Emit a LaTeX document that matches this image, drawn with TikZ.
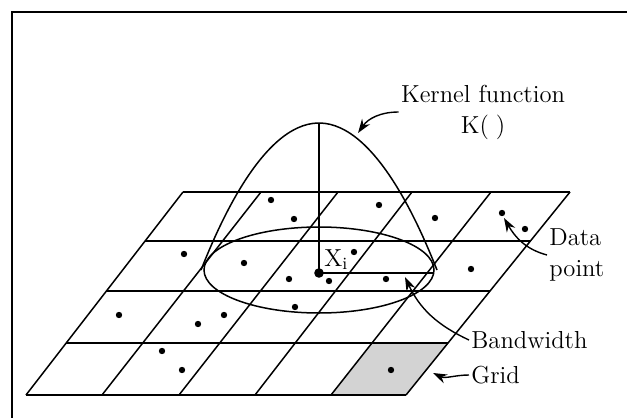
\documentclass[tikz,border=0pt]{standalone}
\usepackage{tikz}
\usetikzlibrary{arrows.meta, positioning}
\definecolor{CellGray}{HTML}{D3D3D3}
\tikzset{
  gridline/.style={line width=0.75pt, black},
  datapt/.style={fill=black},
  callout/.style={line width=0.7pt, -{Stealth[length=7pt,width=4.8pt]}},
  lbl/.style={inner sep=1pt, font=\fontsize{12.3}{15.5}\selectfont}
}

\begin{document}
\begin{tikzpicture}[x=0.5pt, y=-0.5pt]
    \useasboundingbox (0,0) rectangle (627,418);
    % Frame
    \draw[line width=1.1pt] (12,418) -- (12,12) -- (627,12);
    % Shaded grid cell
    \fill[CellGray] (331,395) -- (406,395) -- (448,343) -- (372,343) -- cycle;
    % Grid rows
    \draw[gridline] (183,192) -- (570,192);
    \draw[gridline] (145,241) -- (531,241);
    \draw[gridline] (106,291) -- (490,291);
    \draw[gridline] (66,343) -- (448,343);
    \draw[gridline] (26,395) -- (406,395);
    % Grid columns
    \draw[gridline] (183,192) -- (26,395);
    \draw[gridline] (261,192) -- (102,395);
    \draw[gridline] (338,192) -- (179,395);
    \draw[gridline] (412,192) -- (255,395);
    \draw[gridline] (491,192) -- (331,395);
    \draw[gridline] (570,192) -- (406,395);
    % Kernel and bandwidth
    \draw[gridline] (319,270) ellipse [x radius=115, y radius=43];
    \draw[gridline] (201,270) parabola bend (319,123) (437,270);
    \draw[gridline] (319,123) -- (319,273) -- (433,273);
    % Data points
    \foreach \px/\py in {271/200, 294/219, 379/205, 435/218, 502/213, 525/229,
                         184/254, 244/263, 354/252, 289/279, 329/281, 386/279,
                         471/269, 295/307, 119/315, 198/324, 224/315, 162/351,
                         182/370, 391/370}
        \fill[datapt] (\px,\py) circle (3.2);
    \fill[datapt] (319,273) circle (4.8);
    \node[lbl, anchor=base west] (xi) at (322,266) {X\textsubscript{i}};
    % Labels
    \node[lbl, align=center] (kernel) at (483,112) {Kernel function\\K(\;)};
    \node[lbl, align=left, anchor=west] (datalbl) at (547,255) {Data\\point};
    \node[lbl, anchor=west] (bandlbl) at (469,340) {Bandwidth};
    \node[lbl, anchor=west] (gridlbl) at (469,375) {Grid};
    % Callouts
    \coordinate (kTip) at (358,133);
    \coordinate (dTip) at (504,218);
    \coordinate (bTip) at (405,277);
    \coordinate (gTip) at (433,373);
    \draw[callout] (kernel.west) to[out=180, in=55] (kTip);
    \draw[callout] (datalbl.west) to[out=165, in=-60] (dTip);
    \draw[callout] (bandlbl.west) to[out=155, in=-65] (bTip);
    \draw[callout] (gridlbl.west) to[out=180, in=-25] (gTip);
\end{tikzpicture}
\end{document}
